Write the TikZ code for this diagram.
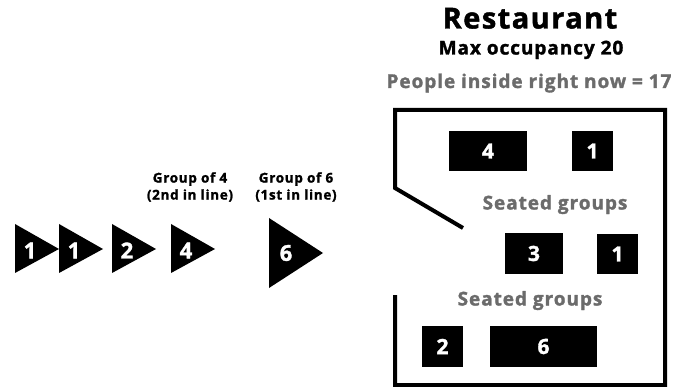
\documentclass[tikz,border=0pt]{standalone}
\usepackage{fontspec}
\setmainfont{Open Sans}[BoldFeatures={FakeBold=1.5, LetterSpace=5}]
\definecolor{seatgray}{HTML}{6B6B6B}
\begin{document}
\begin{tikzpicture}[x=1pt, y=-1pt,
  tablebox/.style={fill=black, text=white, inner sep=0pt, minimum height=40.5pt, font=\fontsize{21}{21}\bfseries},
  qnum/.style={text=white, inner sep=0pt, font=\fontsize{22}{22}\bfseries},
  qlabel/.style={align=center, inner sep=0pt, font=\fontsize{13.5}{17}\bfseries},
  seated/.style={anchor=base, inner sep=0pt, text=seatgray, font=\fontsize{19}{19}\bfseries}]
\useasboundingbox (0,0) rectangle (677,387);
% title
\node[anchor=base, inner sep=0pt, font=\fontsize{29}{29}\bfseries] (title) at (530,28.5) {Restaurant};
\node[anchor=base, inner sep=0pt, font=\fontsize{19}{19}\bfseries] (maxocc) at (531,54.5) {Max occupancy 20};
\node[anchor=base, inner sep=0pt, text=seatgray, font=\fontsize{19}{19}\bfseries] (inside) at (529,88) {People inside right now = 17};
% walls
\draw[line width=4pt] (463,228) -- (395,188) -- (395,110) -- (665,110) -- (665,385) -- (395,385) -- (395,295);
% tables
\node[tablebox, minimum width=78pt] (tfour) at (488,151) {4};
\node[tablebox, minimum width=41pt] (tonea) at (592.5,151) {1};
\node[seated] (seatedA) at (555,209.5) {Seated groups};
\node[tablebox, minimum width=58pt] (tthree) at (534,253.5) {3};
\node[tablebox, minimum width=41pt] (toneb) at (617.5,254) {1};
\node[seated] (seatedB) at (530,305.5) {Seated groups};
\node[tablebox, minimum width=41pt] (ttwo) at (442.5,346.5) {2};
\node[tablebox, minimum width=107pt] (tsix) at (543.5,346.5) {6};
% queue
\foreach \x/\n/\nm in {15/1/qa, 59/1/qb, 112/2/qc, 171/4/qd} {
  \fill (\x,224) -- (\x+44,249) -- (\x,273) -- cycle;
  \node[qnum] (\nm) at (\x+15,250.5) {\n};
}
\fill (269,218) -- (323,253) -- (269,288) -- cycle;
\node[qnum] (qe) at (286,253) {6};
\node[qlabel] (lblfour) at (190,187) {Group of 4\\(2nd in line)};
\node[qlabel] (lblsix) at (296,187) {Group of 6\\(1st in line)};
\end{tikzpicture}
\end{document}
